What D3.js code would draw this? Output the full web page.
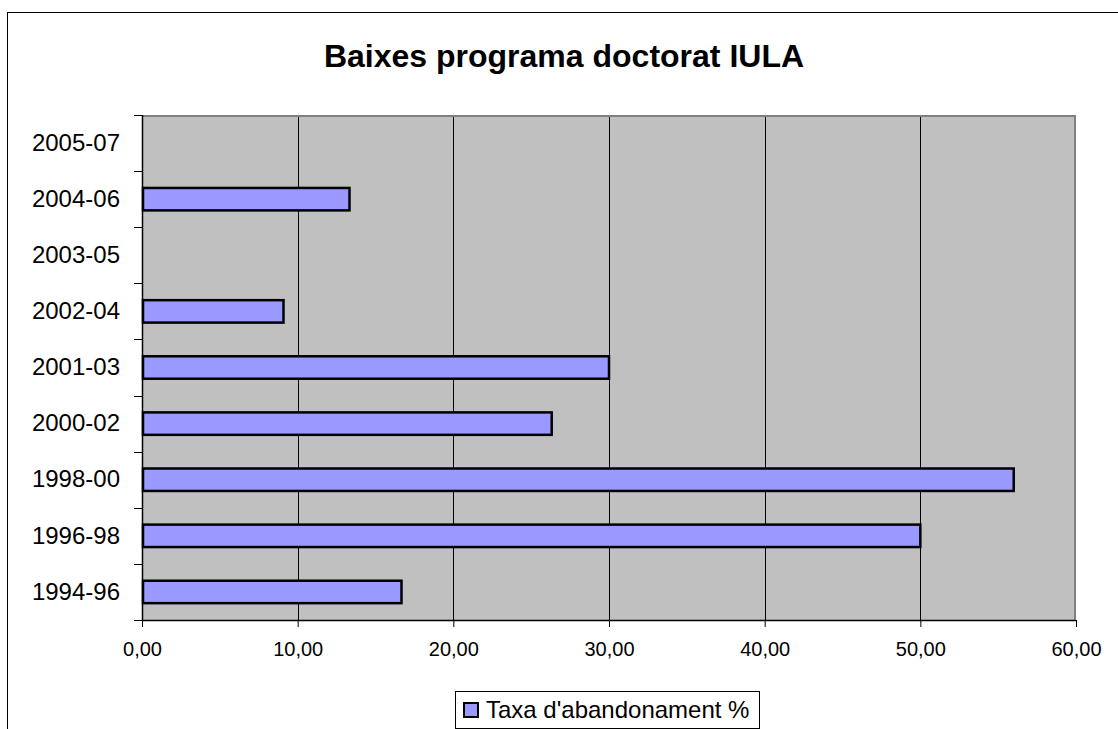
<!DOCTYPE html>
<html>
<head>
<meta charset="utf-8">
<script src="https://cdn.jsdelivr.net/npm/d3@7"></script>
<style>
  body { margin: 0; background: #fff; }
  svg { display: block; font-family: Arial, "Liberation Sans", sans-serif; }
</style>
</head>
<body>
<div id="chart"></div>
<script>
// data, bottom to top as in the picture
const periods = ["1994-96", "1996-98", "1998-00", "2000-02", "2001-03", "2002-04", "2003-05", "2004-06", "2005-07"];
const rates = [16.67, 50.0, 56.0, 26.32, 30.0, 9.09, null, 13.33, null];
const xTicks = [0, 10, 20, 30, 40, 50, 60];
const seriesName = "Taxa d'abandonament %";
const title = "Baixes programa doctorat IULA";

const width = 1118, height = 729;
const plot = {left: 142, right: 1076, top: 115, bottom: 620};
const barColor = "#9999ff";
const plotBg = "#c0c0c0";

d3.select("#chart").html("");
const svg = d3.select("#chart").append("svg")
  .attr("width", width)
  .attr("height", height);

/** CHART FRAME */
svg.append("rect")
  .attr("x", 7.5).attr("y", 12.5)
  .attr("width", width + 20).attr("height", height + 20)
  .style("fill", "#fff").style("stroke", "#000").style("stroke-width", 1);

svg.append("text")
  .text(title)
  .attr("x", 564).attr("y", 67)
  .attr("text-anchor", "middle")
  .style("font-weight", "bold")
  .style("font-size", "32px")
  .style("fill", "#000");

/** SCALES */
const x = d3.scaleLinear().domain([0, 60]).range([plot.left, plot.right]);
const y = d3.scaleBand()
  .domain(periods.slice().reverse())
  .range([plot.top, plot.bottom])
  .paddingInner(0.6).paddingOuter(0.3);

/** PLOT AREA */
svg.append("rect")
  .attr("x", plot.left).attr("y", plot.top)
  .attr("width", plot.right - plot.left).attr("height", plot.bottom - plot.top)
  .style("fill", plotBg);

// gridlines
svg.append("g")
  .selectAll("line")
  .data(xTicks.filter(d => d > 0 && d < 60)).enter()
  .append("line")
  .attr("x1", d => Math.round(x(d)) + 0.5).attr("x2", d => Math.round(x(d)) + 0.5)
  .attr("y1", plot.top).attr("y2", plot.bottom)
  .style("stroke", "#000").style("stroke-width", 1);

// plot border top/right (gray)
svg.append("path")
  .attr("d", `M${plot.left},${plot.top + 1}H${plot.right - 1}V${plot.bottom}`)
  .style("fill", "none").style("stroke", "#808080").style("stroke-width", 2);

/** BARS */
const rows = periods.map((p, i) => ({period: p, value: rates[i]})).filter(d => d.value != null);
svg.append("g")
  .selectAll("rect")
  .data(rows).enter()
  .append("rect")
  .attr("x", x(0) + 1)
  .attr("y", d => y(d.period))
  .attr("width", d => x(d.value) - x(0) - 1)
  .attr("height", y.bandwidth())
  .style("fill", barColor)
  .style("stroke", "#000")
  .style("stroke-width", 2.5);

/** AXES */
const yAxis = svg.append("g")
  .attr("transform", `translate(${plot.left},0)`)
  .call(d3.axisLeft(y).tickSize(0).tickPadding(22));
yAxis.select(".domain").remove();
yAxis.selectAll("text")
  .style("font-size", "24px")
  .style("font-family", "Arial, 'Liberation Sans', sans-serif")
  .style("fill", "#000");

// category tick marks sit between bands
const step = y.step();
const catTicks = d3.range(periods.length + 1).map(i => plot.top + i * step);
svg.append("g")
  .selectAll("line")
  .data(catTicks).enter()
  .append("line")
  .attr("x1", plot.left - 8).attr("x2", plot.left)
  .attr("y1", d => Math.round(d) + 0.5).attr("y2", d => Math.round(d) + 0.5)
  .style("stroke", "#000");
svg.append("line")
  .attr("x1", plot.left + 0.5).attr("x2", plot.left + 0.5)
  .attr("y1", plot.top).attr("y2", plot.bottom)
  .style("stroke", "#000").style("stroke-width", 1.5);

const xAxis = svg.append("g")
  .attr("transform", `translate(0,${plot.bottom})`)
  .call(d3.axisBottom(x).tickValues(xTicks).tickSize(7).tickPadding(15)
    .tickFormat(d => d3.format(".2f")(d).replace(".", ",")));
xAxis.select(".domain").style("stroke", "#000").style("stroke-width", 1.5)
  .attr("d", `M${plot.left},0.5H${plot.right}`);
xAxis.selectAll("text")
  .style("font-size", "20px")
  .style("font-family", "Arial, 'Liberation Sans', sans-serif")
  .style("fill", "#000");

/** LEGEND */
const legend = svg.append("g").attr("transform", "translate(455,691)");
legend.append("rect")
  .attr("x", 0.5).attr("y", 0.5)
  .attr("width", 304).attr("height", 37)
  .style("fill", "#fff").style("stroke", "#000");
legend.append("rect")
  .attr("x", 9).attr("y", 12)
  .attr("width", 14).attr("height", 14)
  .style("fill", barColor).style("stroke", "#000").style("stroke-width", 2);
legend.append("text")
  .text(seriesName)
  .attr("x", 31).attr("y", 27)
  .style("font-size", "24px")
  .style("fill", "#000");
</script>
</body>
</html>
